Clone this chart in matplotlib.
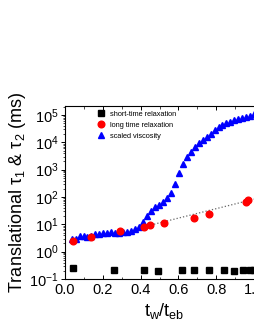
import matplotlib
matplotlib.use("Agg")
import matplotlib.pyplot as plt
from matplotlib.ticker import LogLocator, MultipleLocator, NullFormatter
import numpy as np

plt.rcParams['font.family'] = ['Liberation Sans', 'DejaVu Sans']
plt.rcParams['mathtext.fontset'] = 'custom'
plt.rcParams['mathtext.rm'] = 'Liberation Sans'
plt.rcParams['mathtext.it'] = 'Liberation Sans:italic'
plt.rcParams['mathtext.bf'] = 'Liberation Sans:bold'

# short-time relaxation
short_x = [0.04, 0.26, 0.42, 0.49, 0.62, 0.68, 0.76, 0.84, 0.895, 0.94, 0.98, 1.0]
short_y = [0.25, 0.22, 0.22, 0.20, 0.21, 0.21, 0.21, 0.21, 0.20, 0.21, 0.21, 0.21]

# long time relaxation
long_x = [0.04, 0.135, 0.29, 0.42, 0.45, 0.525, 0.68, 0.76, 0.955, 0.97]
long_y = [2.4, 3.3, 5.8, 8.0, 9.2, 11.0, 17.0, 24.0, 63.0, 80.0]

# scaled viscosity
visc_x = [0.035, 0.056, 0.077, 0.098, 0.119, 0.140, 0.161, 0.182, 0.203, 0.224,
          0.245, 0.266, 0.287, 0.308, 0.329, 0.350, 0.371, 0.392, 0.413, 0.434,
          0.455, 0.476, 0.497, 0.518, 0.539, 0.560, 0.581, 0.602, 0.623, 0.644,
          0.665, 0.686, 0.707, 0.728, 0.749, 0.770, 0.791, 0.812, 0.833, 0.854,
          0.875, 0.896, 0.917, 0.938, 0.959, 0.980, 1.001]
visc_y = [2.8, 2.9, 3.8, 3.6, 3.5, 3.9, 4.3, 4.6, 5.0, 5.0,
          5.1, 5.0, 5.0, 5.2, 5.3, 5.6, 6.5, 8.0, 12, 20,
          30, 42, 52, 65, 95, 135, 300, 750, 1600, 2800,
          4600, 7000, 9700, 12500, 16000, 21000, 28000, 35000, 43000, 50000,
          57000, 65000, 72000, 80000, 88000, 96000, 105000]

# exponential fit line (log10 y = a + b x)
fit_a = 0.19
fit_b = 1.73
fit_range = [0.42, 1.05]

fig = plt.figure(figsize=(2.55, 3.3), dpi=100)
ax = fig.add_axes([65/255, 1-279/330, 198.5/255, 173/330])

fx = np.linspace(fit_range[0], fit_range[1], 50)
ax.plot(fx, 10**(fit_a + fit_b*fx), linestyle=':', color='#666666', lw=0.9, zorder=1)

ax.plot(short_x, short_y, 's', color='black', ms=3.8, ls='none', label='short-time relaxation', zorder=3)
ax.plot(long_x, long_y, 'o', color='red', ms=4.8, ls='none', label='long time relaxation', zorder=3)
ax.plot(visc_x, visc_y, '^', color='blue', ms=5.0, ls='none', label='scaled viscosity', zorder=2)

ax.set_yscale('log')
ax.set_xlim(0, 1.05)
ax.set_ylim(0.1, 10**5.33)
ax.xaxis.set_minor_locator(MultipleLocator(0.1))
ax.set_xticks([0.0, 0.2, 0.4, 0.6, 0.8, 1.0])
ax.set_xticklabels(['0.0', '0.2', '0.4', '0.6', '0.8', '1.0'])
ax.yaxis.set_major_locator(LogLocator(base=10, numticks=20))
ax.yaxis.set_minor_locator(LogLocator(base=10, subs=np.arange(2, 10), numticks=20))
ax.yaxis.set_minor_formatter(NullFormatter())

ax.tick_params(axis='x', which='both', direction='in', top=True, labelsize=10.5, pad=3)
ax.tick_params(axis='y', which='both', direction='out', labelsize=10.5, pad=1.5)
ax.tick_params(which='major', length=3, width=0.7)
ax.tick_params(which='minor', length=1.8, width=0.5)
for s in ax.spines.values():
    s.set_linewidth(0.8)

ax.set_ylabel('Translational τ$_1$ & τ$_2$ (ms)', fontsize=13, labelpad=1)
ax.set_xlabel(r'$\mathrm{t_w/t_{eb}}$', fontsize=13, labelpad=3)

leg = ax.legend(loc='upper left', fontsize=5.3, frameon=False, handletextpad=0.7,
                borderaxespad=0.2, labelspacing=0.55, handlelength=1.0,
                bbox_to_anchor=(0.14, 1.0))

fig.savefig('out.png', dpi=100)
